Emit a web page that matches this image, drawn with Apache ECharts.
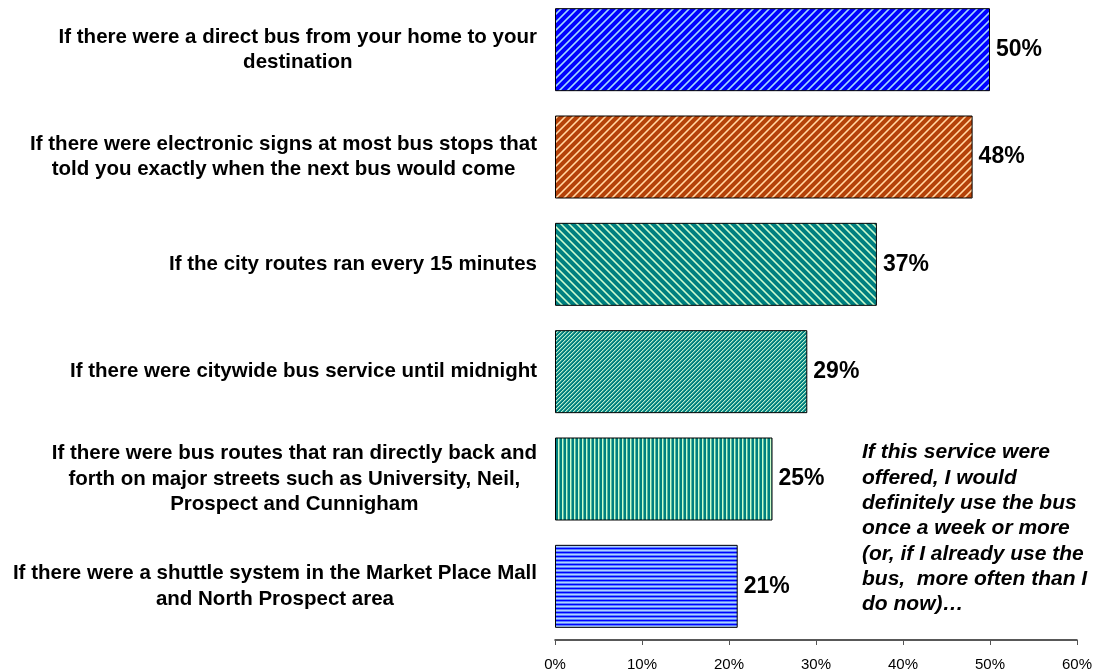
<!DOCTYPE html>
<html>
<head>
<meta charset="utf-8">
<script src="https://cdn.jsdelivr.net/npm/echarts@6/dist/echarts.min.js"></script>
<style>
  html, body { margin: 0; padding: 0; background: #fff; }
  #chart { width: 1097px; height: 671px; }
</style>
</head>
<body>
<div id="chart"></div>
<script>
// Survey items and share who would ride weekly or more
const categories = [
  'If there were a direct bus from your home to your\ndestination',
  'If there were electronic signs at most bus stops that\ntold you exactly when the next bus would come',
  'If the city routes ran every 15 minutes',
  'If there were citywide bus service until midnight',
  'If there were bus routes that ran directly back and\nforth on major streets such as University, Neil,\nProspect and Cunnigham',
  'If there were a shuttle system in the Market Place Mall\nand North Prospect area'
];
const values = [50, 48, 37, 29, 25, 21];
const noteLines = [
  'If this service were',
  'offered, I would',
  'definitely use the bus',
  'once a week or more',
  '(or, if I already use the',
  'bus,  more often than I',
  'do now)\u2026'
];

const FONT = '"Liberation Sans", Arial, sans-serif';

// Build a small repeating tile for a hatched fill
function tile(size, painter) {
  const c = document.createElement('canvas');
  c.width = size; c.height = size;
  const g = c.getContext('2d');
  for (let y = 0; y < size; y++) {
    for (let x = 0; x < size; x++) {
      g.fillStyle = painter(x, y);
      g.fillRect(x, y, 1, 1);
    }
  }
  return { image: c, repeat: 'repeat' };
}

const fills = [
  // wide upward diagonal, blue
  tile(8, (x, y) => { const k = (x + y) % 8; return k < 3 ? (k === 1 ? '#a8d0ff' : '#5f8cff') : '#0000ff'; }),
  // wide upward diagonal, rust
  tile(8, (x, y) => { const k = (x + y) % 8; return k < 3 ? (k === 1 ? '#ffd8a8' : '#e89a60') : '#b4420a'; }),
  // wide downward diagonal, teal
  tile(8, (x, y) => { const k = ((x - y) % 8 + 8) % 8; return k < 3 ? (k === 1 ? '#ccffcc' : '#7cc8b0') : '#008080'; }),
  // light upward diagonal, teal
  tile(4, (x, y) => { const k = (x + y) % 4; return k === 0 ? '#b8f0d0' : (k === 1 ? '#4aa898' : '#008080'); }),
  // vertical stripes, teal
  tile(4, (x, y) => { const k = x % 4; return k === 2 ? '#ccffcc' : (k === 3 ? '#5cb8a4' : '#008080'); }),
  // horizontal stripes, blue
  tile(4, (x, y) => { const k = y % 4; return k === 0 ? '#0000ff' : (k === 2 ? '#b0d0ff' : '#5a82ff'); })
];

const chart = echarts.init(document.getElementById('chart'), null, { renderer: 'canvas' });

chart.setOption({
  animation: false,
  backgroundColor: '#ffffff',
  textStyle: { fontFamily: FONT },
  title: {
    text: noteLines.join('\n'),
    left: 862,
    top: 440,
    padding: 0,
    textStyle: {
      fontFamily: FONT,
      fontStyle: 'italic',
      fontWeight: 'bold',
      fontSize: 21,
      lineHeight: 25.3,
      color: '#000'
    }
  },
  grid: { left: 555, right: 20, top: -4, bottom: 31, containLabel: false, outerBoundsMode: 'none' },
  xAxis: {
    type: 'value',
    min: 0,
    max: 60,
    interval: 10,
    axisLine: { show: true, lineStyle: { color: '#222', width: 1.5 } },
    axisTick: { show: true, length: 5, lineStyle: { color: '#555' } },
    splitLine: { show: false },
    axisLabel: {
      formatter: '{value}%',
      fontFamily: FONT,
      fontSize: 15,
      color: '#000',
      margin: 17
    }
  },
  yAxis: {
    type: 'category',
    inverse: true,
    data: categories,
    axisLine: { show: false },
    axisTick: { show: false },
    axisLabel: {
      align: 'right',
      margin: 18,
      formatter: (v) => v.split('\n').map(l => '{c|' + l + '}').join('\n'),
      rich: {
        c: {
          align: 'center',
          fontFamily: FONT,
          fontWeight: 'bold',
          fontSize: 20.5,
          lineHeight: 25.5,
          color: '#000'
        }
      }
    }
  },
  series: [{
    type: 'bar',
    barWidth: 83,
    data: values.map((v, i) => ({
      value: v,
      itemStyle: { color: fills[i], borderColor: '#000', borderWidth: 1 }
    })),
    label: {
      show: true,
      position: 'right',
      distance: 6,
      formatter: '{c}%',
      fontFamily: FONT,
      fontWeight: 'bold',
      fontSize: 23,
      color: '#000'
    }
  }]
});
</script>
</body>
</html>
